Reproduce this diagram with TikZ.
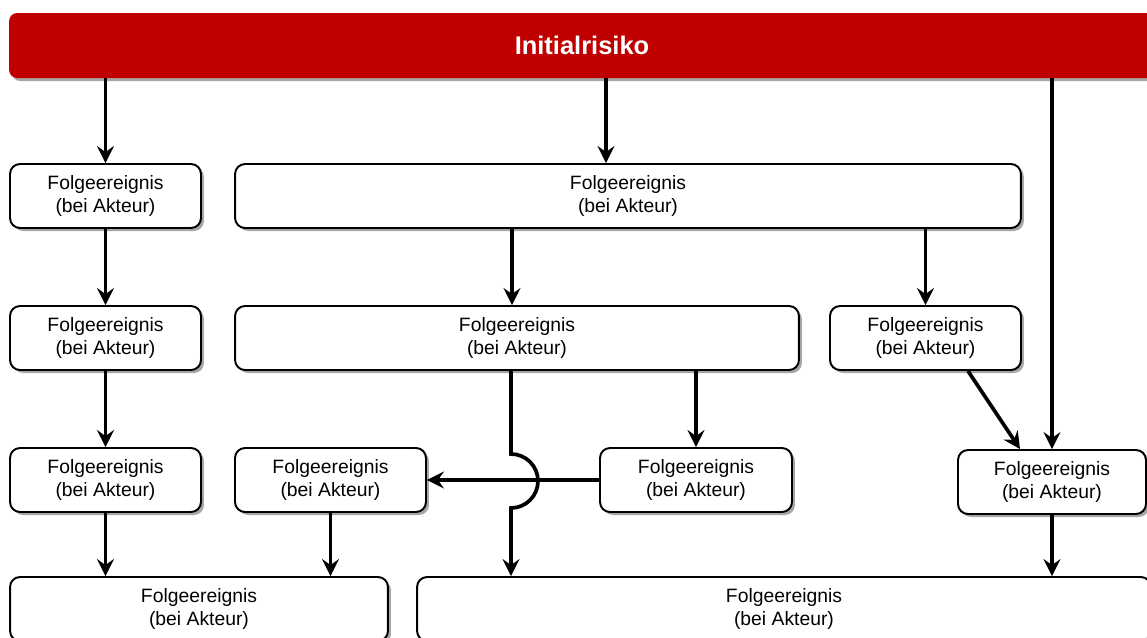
\documentclass[tikz,border=0pt]{standalone}
\usepackage{fontspec}
\setmainfont{Liberation Sans}
\usetikzlibrary{arrows.meta,shadows}
\definecolor{risikorot}{HTML}{C00000}

\begin{document}
\begin{tikzpicture}[x=0.02cm,y=-0.02cm,
  ereignis/.style={draw=black,line width=1.1pt,fill=white,rounded corners=0.2cm,
    align=center,minimum height=1.28cm,inner sep=0pt,
    font=\fontsize{11}{13.5}\selectfont,
    drop shadow={shadow xshift=0.06cm,shadow yshift=-0.06cm,opacity=0.35,fill=black}},
  pfeil/.style={line width=2.1pt,-{Stealth[length=0.34cm,width=0.34cm,inset=0.12cm]}}]
\useasboundingbox (0,0) rectangle (1147,637);

\node[fill=risikorot,rounded corners=0.16cm,minimum width=22.92cm,minimum height=1.3cm,
  text=white,font=\fontsize{14.5}{17}\selectfont\bfseries,
  drop shadow={shadow xshift=0.06cm,shadow yshift=-0.06cm,opacity=0.35,fill=black}] (bar) at (582,45.5) {Initialrisiko};

\node[ereignis,minimum width=3.82cm] (a1) at (105.5,196) {Folgeereignis\\(bei Akteur)};
\node[ereignis,minimum width=15.72cm] (b1) at (628,196) {Folgeereignis\\(bei Akteur)};

\node[ereignis,minimum width=3.82cm] (a2) at (105.5,338) {Folgeereignis\\(bei Akteur)};
\node[ereignis,minimum width=11.28cm] (b2) at (517,338) {Folgeereignis\\(bei Akteur)};
\node[ereignis,minimum width=3.82cm] (c2) at (925.5,338) {Folgeereignis\\(bei Akteur)};

\node[ereignis,minimum width=3.82cm] (a3) at (105.5,480) {Folgeereignis\\(bei Akteur)};
\node[ereignis,minimum width=3.82cm] (b3) at (330.5,480) {Folgeereignis\\(bei Akteur)};
\node[ereignis,minimum width=3.84cm] (c3) at (696,480) {Folgeereignis\\(bei Akteur)};
\node[ereignis,minimum width=3.76cm] (d3) at (1052,482) {Folgeereignis\\(bei Akteur)};

\node[ereignis,minimum width=7.56cm] (a4) at (199,609) {Folgeereignis\\(bei Akteur)};
\node[ereignis,minimum width=14.68cm] (b4) at (784,609) {Folgeereignis\\(bei Akteur)};

% Verbindungen
\draw[pfeil] (bar.south -| a1) -- (a1.north);
\draw[pfeil] (bar.south -| 606,0) -- (b1.north -| 606,0);
\draw[pfeil] (bar.south -| d3) -- (d3.north);
\draw[pfeil] (a1) -- (a2);
\draw[pfeil] (a2) -- (a3);
\draw[pfeil] (a3) -- (a4.north -| a3);
\draw[pfeil] (b1.south -| 512,0) -- (b2.north -| 512,0);
\draw[pfeil] (b1.south -| c2) -- (c2.north);
\draw[pfeil] (c2.south -| 968,0) -- (d3.north -| 1020,0);
\draw[pfeil] (b2.south -| c3) -- (c3.north);
\draw[pfeil] (c3) -- (b3);
\draw[pfeil] (b3) -- (a4.north -| b3);
\draw[pfeil] (d3) -- (b4.north -| d3);

% Sprung ueber die waagrechte Linie
\coordinate (sprung) at (511,481);
\draw[pfeil] (b2.south -| sprung) -- ([yshift=0.54cm]sprung)
  arc[start angle=90,end angle=-90,radius=0.54cm] -- (b4.north -| sprung);
\end{tikzpicture}
\end{document}
